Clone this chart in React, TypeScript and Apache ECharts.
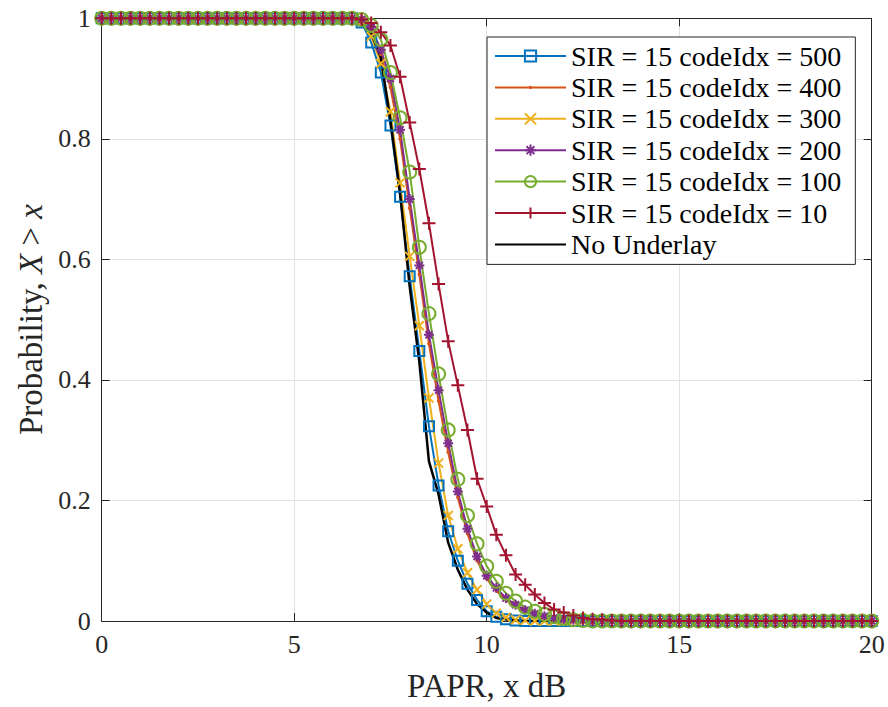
import React, { useEffect, useRef } from "react";
import * as echarts from "echarts";

// PAPR grid (dB), sampled every 0.25 dB from 0 to 20
const papr: number[] = Array.from({ length: 81 }, (_, i) => i * 0.25);
// "No Underlay" curve stops at 15 dB
const paprNoUnderlay: number[] = papr.slice(0, 61);

const sir500: number[] = [
  1, 1, 1, 1, 1, 1, 1, 1, 1, 1,
  1, 1, 1, 1, 1, 1, 1, 1, 1, 1,
  1, 1, 1, 1, 1, 1, 1, 0.993, 0.96, 0.91,
  0.822, 0.704, 0.572, 0.448, 0.323, 0.225, 0.149, 0.1, 0.062, 0.035,
  0.016, 0.007, 0.003, 0.001, 0, 0, 0, 0, 0, 0,
  0, 0, 0, 0, 0, 0, 0, 0, 0, 0,
  0, 0, 0, 0, 0, 0, 0, 0, 0, 0,
  0, 0, 0, 0, 0, 0, 0, 0, 0, 0,
  0,
];
const sir400: number[] = [
  1, 1, 1, 1, 1, 1, 1, 1, 1, 1,
  1, 1, 1, 1, 1, 1, 1, 1, 1, 1,
  1, 1, 1, 1, 1, 1, 1, 0.997, 0.98, 0.94,
  0.885, 0.8, 0.685, 0.575, 0.46, 0.365, 0.28, 0.205, 0.145, 0.1,
  0.07, 0.05, 0.035, 0.024, 0.016, 0.011, 0.007, 0.004, 0.002, 0.001,
  0, 0, 0, 0, 0, 0, 0, 0, 0, 0,
  0, 0, 0, 0, 0, 0, 0, 0, 0, 0,
  0, 0, 0, 0, 0, 0, 0, 0, 0, 0,
  0,
];
const sir300: number[] = [
  1, 1, 1, 1, 1, 1, 1, 1, 1, 1,
  1, 1, 1, 1, 1, 1, 1, 1, 1, 1,
  1, 1, 1, 1, 1, 1, 1, 0.995, 0.97, 0.925,
  0.845, 0.727, 0.605, 0.49, 0.37, 0.262, 0.175, 0.12, 0.08, 0.052,
  0.028, 0.013, 0.006, 0.002, 0.001, 0, 0, 0, 0, 0,
  0, 0, 0, 0, 0, 0, 0, 0, 0, 0,
  0, 0, 0, 0, 0, 0, 0, 0, 0, 0,
  0, 0, 0, 0, 0, 0, 0, 0, 0, 0,
  0,
];
const sir200: number[] = [
  1, 1, 1, 1, 1, 1, 1, 1, 1, 1,
  1, 1, 1, 1, 1, 1, 1, 1, 1, 1,
  1, 1, 1, 1, 1, 1, 1, 0.998, 0.985, 0.948,
  0.9, 0.815, 0.7, 0.59, 0.475, 0.383, 0.295, 0.215, 0.153, 0.107,
  0.075, 0.055, 0.038, 0.027, 0.018, 0.012, 0.008, 0.005, 0.003, 0.002,
  0.001, 0, 0, 0, 0, 0, 0, 0, 0, 0,
  0, 0, 0, 0, 0, 0, 0, 0, 0, 0,
  0, 0, 0, 0, 0, 0, 0, 0, 0, 0,
  0,
];
const sir100: number[] = [
  1, 1, 1, 1, 1, 1, 1, 1, 1, 1,
  1, 1, 1, 1, 1, 1, 1, 1, 1, 1,
  1, 1, 1, 1, 1, 1, 1, 0.998, 0.988, 0.965,
  0.91, 0.835, 0.745, 0.62, 0.51, 0.41, 0.317, 0.235, 0.175, 0.128,
  0.091, 0.066, 0.046, 0.033, 0.023, 0.016, 0.011, 0.007, 0.004, 0.002,
  0.001, 0, 0, 0, 0, 0, 0, 0, 0, 0,
  0, 0, 0, 0, 0, 0, 0, 0, 0, 0,
  0, 0, 0, 0, 0, 0, 0, 0, 0, 0,
  0,
];
const sir10: number[] = [
  1, 1, 1, 1, 1, 1, 1, 1, 1, 1,
  1, 1, 1, 1, 1, 1, 1, 1, 1, 1,
  1, 1, 1, 1, 1, 1, 1, 0.998, 0.992, 0.977,
  0.955, 0.903, 0.827, 0.75, 0.66, 0.559, 0.464, 0.391, 0.317, 0.236,
  0.19, 0.143, 0.109, 0.077, 0.06, 0.044, 0.03, 0.019, 0.014, 0.009,
  0.005, 0.003, 0.002, 0.001, 0, 0, 0, 0, 0, 0,
  0, 0, 0, 0, 0, 0, 0, 0, 0, 0,
  0, 0, 0, 0, 0, 0, 0, 0, 0, 0,
  0,
];
const noUnderlay: number[] = [
  1, 1, 1, 1, 1, 1, 1, 1, 1, 1,
  1, 1, 1, 1, 1, 1, 1, 1, 1, 1,
  1, 1, 1, 1, 1, 1, 0.998, 0.992, 0.975, 0.935,
  0.83, 0.71, 0.555, 0.43, 0.265, 0.21, 0.13, 0.085, 0.052, 0.028,
  0.014, 0.005, 0.003, 0.001, 0, 0, 0, 0, 0, 0,
  0, 0, 0, 0, 0, 0, 0, 0, 0, 0,
  0,
];

const seriesNames: string[] = [
  "SIR = 15 codeIdx = 500",
  "SIR = 15 codeIdx = 400",
  "SIR = 15 codeIdx = 300",
  "SIR = 15 codeIdx = 200",
  "SIR = 15 codeIdx = 100",
  "SIR = 15 codeIdx = 10",
  "No Underlay",
];
const seriesColors: string[] = ["#0072BD", "#D95319", "#EDB120", "#7E2F8E", "#77AC30", "#A2142F", "#000000"];

const xTicks = { min: 0, max: 20, interval: 5 };
const yTicks = { min: 0, max: 1, interval: 0.2 };

const FONT = "'Liberation Serif', 'Times New Roman', serif";
const AXIS_COLOR = "#262626";

const SYM_DOT = "path://M0,0M12,12M4.2,6a1.8,1.8 0 1,0 3.6,0a1.8,1.8 0 1,0 -3.6,0Z";
const SYM_X = "path://M0,0L10,10M10,0L0,10";
const SYM_PLUS = "path://M5,0L5,10M0,5L10,5";
const SYM_STAR = "path://M5,0L5,10M0,5L10,5M1.5,1.5L8.5,8.5M8.5,1.5L1.5,8.5";

export default function App() {
  const ref = useRef<HTMLDivElement>(null);

  useEffect(() => {
    document.body.style.margin = "0";
    if (!ref.current) return;
    const chart = echarts.init(ref.current, undefined, { renderer: "svg" });

    const pairs = (xs: number[], ys: number[]) => xs.map((x, i) => [x, ys[i]]);

    const mk = (idx: number, ys: number[], symbol: string, size: number, filled = false) => ({
      name: seriesNames[idx],
      type: "line",
      data: pairs(papr, ys),
      symbol,
      symbolSize: size,
      showAllSymbol: true,
      silent: true,
      lineStyle: { color: seriesColors[idx], width: 2 },
      itemStyle: filled
        ? { color: seriesColors[idx], borderWidth: 0 }
        : { color: "rgba(0,0,0,0)", borderColor: seriesColors[idx], borderWidth: 2 },
      emphasis: { disabled: true },
    });

    const axisCommonX = {
      type: "value",
      min: xTicks.min,
      max: xTicks.max,
      interval: xTicks.interval,
      axisLine: { show: true, onZero: false, lineStyle: { color: AXIS_COLOR, width: 1 } },
      axisTick: { show: true, inside: true, length: 8, lineStyle: { color: AXIS_COLOR } },
    };
    const axisCommonY = {
      type: "value",
      min: yTicks.min,
      max: yTicks.max,
      interval: yTicks.interval,
      axisLine: { show: true, onZero: false, lineStyle: { color: AXIS_COLOR, width: 1 } },
      axisTick: { show: true, inside: true, length: 8, lineStyle: { color: AXIS_COLOR } },
    };

    chart.setOption({
      animation: false,
      backgroundColor: "#ffffff",
      grid: { left: 101.7, right: 16.3, top: 18.3, bottom: 83.7, containLabel: false },
      xAxis: [
        {
          ...axisCommonX,
          position: "bottom",
          axisLabel: { fontFamily: FONT, fontSize: 26, color: AXIS_COLOR, margin: 10 },
          splitLine: { show: true, lineStyle: { color: "#e2e2e2", width: 1 } },
          name: "PAPR, x dB",
          nameLocation: "middle",
          nameGap: 48,
          nameTextStyle: { fontFamily: FONT, fontSize: 33, color: AXIS_COLOR },
        },
        {
          ...axisCommonX,
          position: "top",
          axisLabel: { show: false },
          splitLine: { show: false },
        },
      ],
      yAxis: [
        {
          ...axisCommonY,
          position: "left",
          axisLabel: { fontFamily: FONT, fontSize: 26, color: AXIS_COLOR, margin: 11 },
          splitLine: { show: true, lineStyle: { color: "#e2e2e2", width: 1 } },
          name: "Probability, {i|X} > {i|x}",
          nameLocation: "middle",
          nameGap: 54,
          nameTextStyle: {
            fontFamily: FONT,
            fontSize: 33,
            color: AXIS_COLOR,
            rich: { i: { fontFamily: FONT, fontSize: 33, fontStyle: "italic", color: AXIS_COLOR } },
          },
        },
        {
          ...axisCommonY,
          position: "right",
          axisLabel: { show: false },
          splitLine: { show: false },
        },
      ],
      legend: {
        orient: "vertical",
        left: 487,
        top: 37,
        itemWidth: 71,
        itemHeight: 14,
        itemGap: 3.4,
        padding: [5, 14, 6, 7],
        backgroundColor: "#ffffff",
        borderColor: AXIS_COLOR,
        borderWidth: 1,
        borderRadius: 0,
        selectedMode: false,
        textStyle: { fontFamily: FONT, fontSize: 28, color: "#000000", lineHeight: 26 },
        data: seriesNames,
      },
      series: [
        mk(0, sir500, "rect", 10),
        mk(1, sir400, SYM_DOT, 12, true),
        mk(2, sir300, SYM_X, 9),
        mk(3, sir200, SYM_STAR, 10),
        mk(4, sir100, "circle", 13),
        mk(5, sir10, SYM_PLUS, 13),
        {
          name: seriesNames[6],
          type: "line",
          data: pairs(paprNoUnderlay, noUnderlay),
          symbol: "none",
          silent: true,
          lineStyle: { color: seriesColors[6], width: 2.5 },
          itemStyle: { color: "rgba(0,0,0,0)", borderWidth: 0 },
          emphasis: { disabled: true },
        },
      ],
    });

    return () => chart.dispose();
  }, []);

  return <div ref={ref} style={{ width: 888, height: 707 }} />;
}
